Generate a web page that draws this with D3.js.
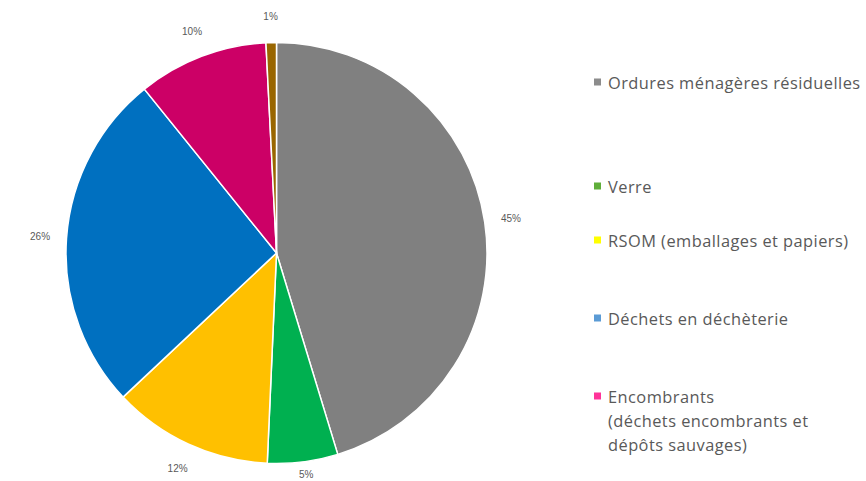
<!DOCTYPE html>
<html><head><meta charset="utf-8">
<script src="https://cdn.jsdelivr.net/npm/d3@7"></script>
<style>body{margin:0;background:#fff;}svg{display:block;}</style>
</head><body>
<svg id="c" width="866" height="481"></svg>
<script>
const categories = ["Ordures ménagères résiduelles","Verre","RSOM (emballages et papiers)","Déchets en déchèterie","Encombrants","Autres"];
const values = [45.3, 5.4, 12.3, 26.2, 10.0, 0.8];
const pctLabels = ["45%","5%","12%","26%","10%","1%"];
const sliceColors = ["#808080","#00b050","#ffc000","#0070c0","#cc0066","#996600"];
const legendItems = [
  {lines:["Ordures ménagères résiduelles"], color:"#8c8c8c"},
  {lines:["Verre"], color:"#5fae3a"},
  {lines:["RSOM (emballages et papiers)"], color:"#ffff00"},
  {lines:["Déchets en déchèterie"], color:"#5b9bd5"},
  {lines:["Encombrants","(déchets encombrants et","dépôts sauvages)"], color:"#ff3399"}
];
const legendY = [82, 186, 240, 318, 396];

const svg = d3.select("#c");
const cx = 276.5, cy = 253, R = 210.5;
const g = svg.append("g").attr("transform",`translate(${cx},${cy})`);
const pie = d3.pie().sort(null).value(d=>d);
const arcs = pie(values);
const arc = d3.arc().innerRadius(0).outerRadius(R);
g.selectAll("path").data(arcs).join("path")
  .attr("d", arc).attr("fill",(d,i)=>sliceColors[i])
  .attr("stroke","#fff").attr("stroke-width",1.5);
const lr = 237;
g.selectAll("text.pct").data(arcs).join("text").attr("class","pct")
  .attr("x", d=>Math.sin((d.startAngle+d.endAngle)/2)*lr)
  .attr("y", d=>Math.min(-Math.cos((d.startAngle+d.endAngle)/2)*lr, 481-cy-7))
  .attr("text-anchor","middle").attr("dominant-baseline","central")
  .attr("font-family","Liberation Sans, Arial, sans-serif").attr("font-size",10)
  .attr("fill","#595959").text((d,i)=>pctLabels[i]);

const lg = svg.append("g");
legendItems.forEach((it,i)=>{
  const y = legendY[i];
  lg.append("rect").attr("x",594).attr("y",y-3.5).attr("width",7).attr("height",7).attr("fill",it.color);
  it.lines.forEach((ln,j)=>{
    lg.append("text").attr("x",608).attr("y",y+j*24).attr("dominant-baseline","central")
      .attr("font-family","'Open Sans', Lato, sans-serif").attr("font-size",16.4)
      .attr("letter-spacing",0.45)
      .attr("fill","#595959").text(ln);
  });
});
</script>
</body></html>
